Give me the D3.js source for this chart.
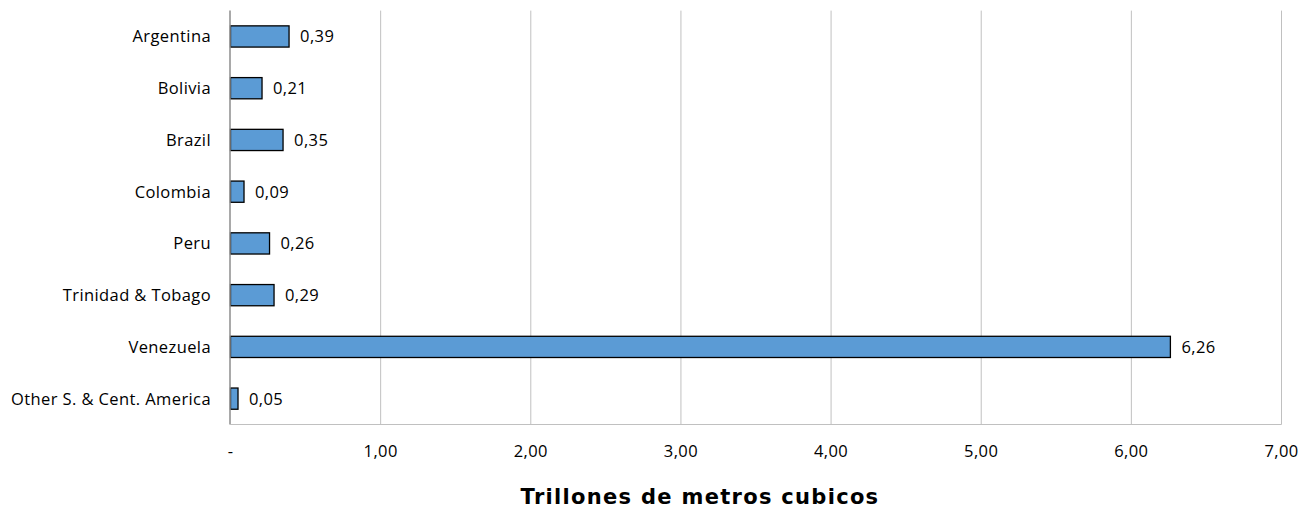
<!DOCTYPE html>
<html><head><meta charset="utf-8">
<script src="https://cdn.jsdelivr.net/npm/d3@7"></script>
<style>body{margin:0;background:#fff}svg{display:block}</style>
</head><body>
<svg id="c" width="1301" height="510"></svg>
<script>
const categories = ["Argentina","Bolivia","Brazil","Colombia","Peru","Trinidad & Tobago","Venezuela","Other S. & Cent. America"];
const values = [0.39,0.21,0.35,0.09,0.26,0.29,6.26,0.05];
const tickValues = [0,1,2,3,4,5,6,7];
const tickLabels = ["-","1,00","2,00","3,00","4,00","5,00","6,00","7,00"];
const axisTitle = "Trillones de metros cubicos";

const svg = d3.select("#c");
const font = "'Open Sans', sans-serif";
const fs = 16.5, ls = 0.4;
const x = d3.scaleLinear().domain([0,7]).range([230.5,1281.5]);
const y = d3.scaleBand().domain(categories).range([10.6,424.5]).paddingInner(0.59).paddingOuter(0.295);

svg.append("g").selectAll("line").data(tickValues.slice(1)).join("line")
  .attr("x1",d=>x(d)).attr("x2",d=>x(d)).attr("y1",10.6).attr("y2",424.5)
  .attr("stroke","#c0c0c0").attr("stroke-width",1);
svg.append("line").attr("x1",x(0)).attr("x2",x(7)).attr("y1",424.5).attr("y2",424.5)
  .attr("stroke","#c0c0c0").attr("stroke-width",1);

svg.append("g").selectAll("rect").data(values).join("rect")
  .attr("x",x(0)).attr("y",(d,i)=>y(categories[i]))
  .attr("width",d=>x(d)-x(0)).attr("height",y.bandwidth())
  .attr("fill","#5b9bd5").attr("stroke","#000").attr("stroke-width",1.3);

svg.append("line").attr("x1",x(0)-0.5).attr("x2",x(0)-0.5).attr("y1",10.6).attr("y2",424.5)
  .attr("stroke","#8c8c8c").attr("stroke-width",1.5);

svg.append("g").selectAll("text").data(values).join("text")
  .attr("x",d=>x(d)+11).attr("y",(d,i)=>y(categories[i])+y.bandwidth()/2)
  .attr("dy","0.36em").attr("font-family",font).attr("font-size",fs).attr("letter-spacing",ls).attr("fill","#000")
  .text(d=>d.toFixed(2).replace(".",","));

svg.append("g").selectAll("text").data(categories).join("text")
  .attr("x",211).attr("y",d=>y(d)+y.bandwidth()/2).attr("dy","0.36em")
  .attr("text-anchor","end").attr("font-family",font).attr("font-size",fs).attr("letter-spacing",ls).attr("fill","#000")
  .text(d=>d);

svg.append("g").selectAll("text").data(tickValues).join("text")
  .attr("x",d=>x(d)).attr("y",451).attr("dy","0.36em").attr("text-anchor","middle")
  .attr("font-family",font).attr("font-size",fs).attr("letter-spacing",ls).attr("fill","#000")
  .text((d,i)=>tickLabels[i]);

svg.append("text").attr("x",700).attr("y",504).attr("text-anchor","middle")
  .attr("font-family","'DejaVu Sans', sans-serif").attr("font-weight","bold").attr("font-size",21)
  .attr("letter-spacing",1.3).attr("fill","#000").text(axisTitle);
</script>
</body></html>
